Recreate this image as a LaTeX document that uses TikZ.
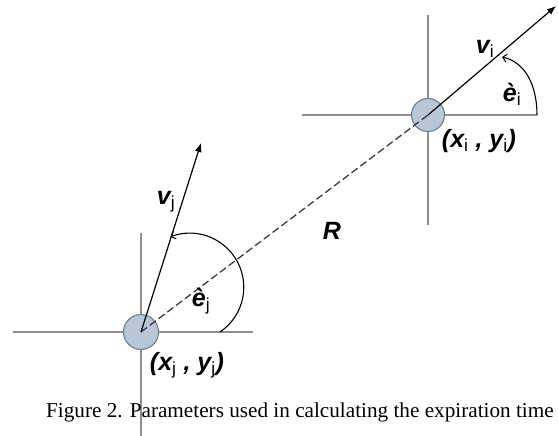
\documentclass[tikz,border=0pt]{standalone}
\usepackage{fontspec}
\setmainfont{Liberation Serif}
\newfontfamily\labelfont{Liberation Sans}
\usetikzlibrary{arrows.meta}
\pgfdeclarelayer{background}
\pgfsetlayers{background,main}
\definecolor{axisgray}{HTML}{8E8E8E}
\definecolor{partfill}{HTML}{B7C7D7}
\definecolor{partdraw}{HTML}{6E7E8E}
\definecolor{dashgray}{HTML}{3C3C3C}
\newcommand{\lbsub}[1]{\textsubscript{\mdseries\upshape #1}}
\tikzset{
  particle/.style={circle, draw=partdraw, fill=partfill, line width=1.1pt, inner sep=0pt},
  axisline/.style={draw=axisgray, line width=1.7pt},
  vecline/.style={draw=black, line width=1.2pt, -{Latex[length=9pt,width=7pt]}},
  rline/.style={draw=dashgray, line width=1.3pt, dash pattern=on 7.5pt off 3.5pt},
  anglearc/.style={draw=black, line width=1.1pt, -{Straight Barb[length=4pt,width=8pt,line width=1pt]}},
  lbl/.style={font=\labelfont\bfseries\itshape\fontsize{25}{28}\selectfont, inner sep=0pt},
  caption/.style={font=\fontsize{21.2}{24}\selectfont, inner sep=0pt}
}
\begin{document}
\begin{tikzpicture}[x=1pt,y=-1pt]
\useasboundingbox (0,0) rectangle (558,436);
% particles
\node[particle, minimum size=35pt] (nj) at (141,332) {};
\node[particle, minimum size=33pt] (ni) at (428,115) {};
% axes (behind)
\begin{pgfonlayer}{background}
\coordinate (jL) at (13,332);
\coordinate (jR) at (253,332);
\coordinate (jT) at (141,233);
\coordinate (jB) at (141,436);
\coordinate (iL) at (302,115);
\coordinate (iR) at (537,115);
\coordinate (iT) at (428,15);
\coordinate (iB) at (428,225);
\draw[axisline] (jL) -- (jR);
\draw[axisline] (jT) -- (jB);
\draw[axisline] (iL) -- (iR);
\draw[axisline] (iT) -- (iB);
\end{pgfonlayer}
% separation R
\draw[rline] (nj.center) -- (ni.center);
% velocity vectors
\coordinate (vjtip) at (201,143);
\coordinate (vitip) at (556,6);
\draw[vecline] (nj.center) -- (vjtip);
\draw[vecline] (ni.center) -- (vitip);
% heading angles
\draw[anglearc] (220,332) arc[start angle=56, end angle=-111, radius=54];
\draw[anglearc] (537,115) .. controls (537,85) and (525,62) .. (502,57);
% labels
\node[lbl] (lvj) at (166,202) {v\lbsub{j}};
\node[lbl] (lvi) at (485,49) {v\lbsub{i}};
\node[lbl] (lej) at (201,301) {è\lbsub{j}};
\node[lbl] (lei) at (512,94) {è\lbsub{i}};
\node[lbl] (lR) at (332,231) {R};
\node[lbl] (lxj) at (187,365) {(x\lbsub{j} , y\lbsub{j})};
\node[lbl] (lxi) at (479,141) {(x\lbsub{i} , y\lbsub{i})};
\node[caption, anchor=base west] (cap) at (46,417) {Figure 2. Parameters used in calculating the expiration time};
\end{tikzpicture}
\end{document}
